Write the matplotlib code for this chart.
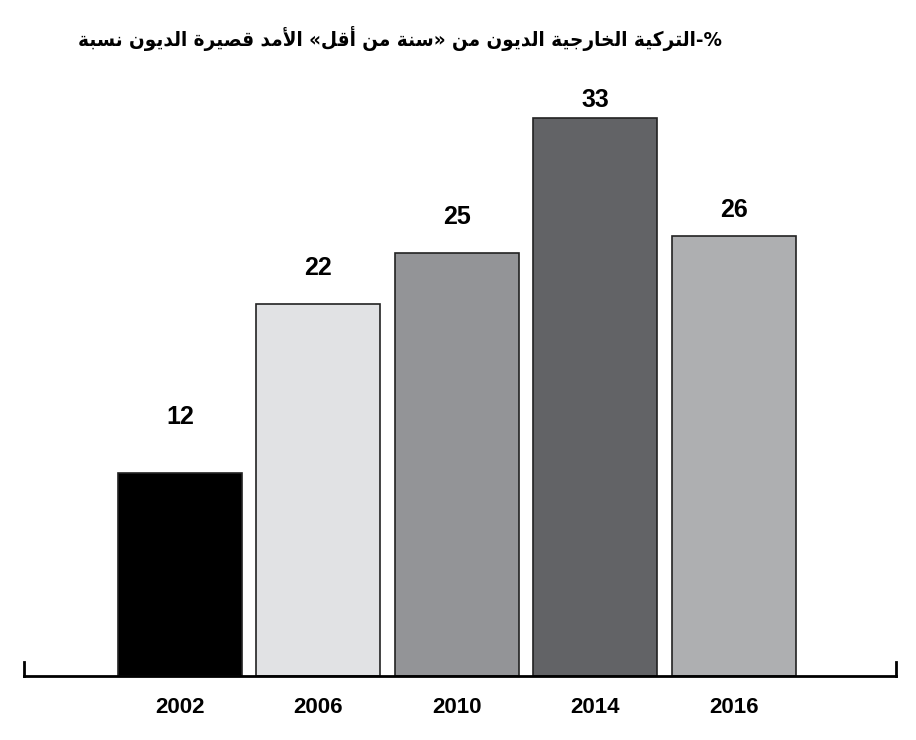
import matplotlib
matplotlib.use("Agg")
import matplotlib.pyplot as plt

# data
years = ["2002", "2006", "2010", "2014", "2016"]
values = [12, 22, 25, 33, 26]
bar_colors = ["#000000", "#e1e2e4", "#939497", "#626366", "#aeafb1"]
label_gap = [44, 24, 24, 6, 14]  # px between bar top and value label

# title words in logical order (the original lays the words out left to right)
title_words = ["نسبة", "الديون", "قصيرة", "الأمد", "«أقل", "من", "سنة»",
               "من", "الديون", "الخارجية", "التركية-%"]

# simple Arabic shaping with presentation forms: (isolated, final, initial, medial)
FORMS = {
    'ا': ('\uFE8D', '\uFE8E', None, None),
    'أ': ('\uFE83', '\uFE84', None, None),
    'ب': ('\uFE8F', '\uFE90', '\uFE91', '\uFE92'),
    'ة': ('\uFE93', '\uFE94', None, None),
    'ت': ('\uFE95', '\uFE96', '\uFE97', '\uFE98'),
    'ج': ('\uFE9D', '\uFE9E', '\uFE9F', '\uFEA0'),
    'خ': ('\uFEA5', '\uFEA6', '\uFEA7', '\uFEA8'),
    'د': ('\uFEA9', '\uFEAA', None, None),
    'ر': ('\uFEAD', '\uFEAE', None, None),
    'س': ('\uFEB1', '\uFEB2', '\uFEB3', '\uFEB4'),
    'ص': ('\uFEB9', '\uFEBA', '\uFEBB', '\uFEBC'),
    'ق': ('\uFED5', '\uFED6', '\uFED7', '\uFED8'),
    'ك': ('\uFED9', '\uFEDA', '\uFEDB', '\uFEDC'),
    'ل': ('\uFEDD', '\uFEDE', '\uFEDF', '\uFEE0'),
    'م': ('\uFEE1', '\uFEE2', '\uFEE3', '\uFEE4'),
    'ن': ('\uFEE5', '\uFEE6', '\uFEE7', '\uFEE8'),
    'و': ('\uFEED', '\uFEEE', None, None),
    'ي': ('\uFEF1', '\uFEF2', '\uFEF3', '\uFEF4'),
    'لا': ('\uFEFB', '\uFEFC', None, None),
    'لأ': ('\uFEF7', '\uFEF8', None, None),
}


def shape(word):
    # keep punctuation around the word where it is
    pre, post = "", ""
    while word and word[0] not in FORMS:
        pre += word[0]
        word = word[1:]
    while word and word[-1] not in FORMS:
        post = word[-1] + post
        word = word[:-1]
    toks = []
    i = 0
    while i < len(word):
        if word[i] == 'ل' and word[i:i + 2] in FORMS:
            toks.append(word[i:i + 2])
            i += 2
        else:
            toks.append(word[i])
            i += 1
    out = []
    for k, t in enumerate(toks):
        f = FORMS[t]
        joins_prev = k > 0 and FORMS[toks[k - 1]][2] is not None
        joins_next = f[2] is not None and k + 1 < len(toks)
        if joins_prev and joins_next:
            out.append(f[3])
        elif joins_prev:
            out.append(f[1])
        elif joins_next:
            out.append(f[2])
        else:
            out.append(f[0])
    return pre + "".join(reversed(out)) + post


title = " ".join(shape(w) for w in title_words)

fig = plt.figure(figsize=(9.16, 7.40), dpi=100)
ax = fig.add_axes([24 / 916, 64 / 740, 872 / 916, 596 / 740])

x = list(range(len(years)))
bars = ax.bar(x, values, width=0.895, color=bar_colors,
              edgecolor="#222222", linewidth=1.2)

ax.set_xlim(-1.126, 5.17)
ax.set_ylim(0, 35.22)

for rect, v, gap in zip(bars, values, label_gap):
    ax.annotate(str(v), (rect.get_x() + rect.get_width() / 2, rect.get_height()),
                xytext=(0, gap * 0.72), textcoords="offset points",
                ha="center", va="bottom", fontsize=18, fontweight="bold",
                family=["Liberation Sans", "DejaVu Sans"])

for s in ["top", "left", "right"]:
    ax.spines[s].set_visible(False)
ax.spines["bottom"].set_linewidth(2)
ax.spines["bottom"].set_color("black")
ax.set_yticks([])
ax.set_xticks(x)
ax.set_xticklabels(years, fontsize=16, fontweight="bold",
                   family=["Liberation Sans Narrow", "Liberation Sans"])
ax.tick_params(axis="x", length=0, pad=15)

# end ticks of the base line
for xe in ax.get_xlim():
    ax.axvline(xe, ymin=0, ymax=14 / 596, color="black", linewidth=2, clip_on=False)

t = fig.text(400 / 916, 1 - 38 / 740, title, ha="center", va="center",
             fontsize=17, fontweight="bold", fontstretch="condensed",
             family=["DejaVu Sans"])

# fit the title to the width it has in the original (about 640 px)
fig.canvas.draw()
w = t.get_window_extent().width
t.set_fontsize(17 * 640 / w)

fig.savefig("out.png", dpi=100)
